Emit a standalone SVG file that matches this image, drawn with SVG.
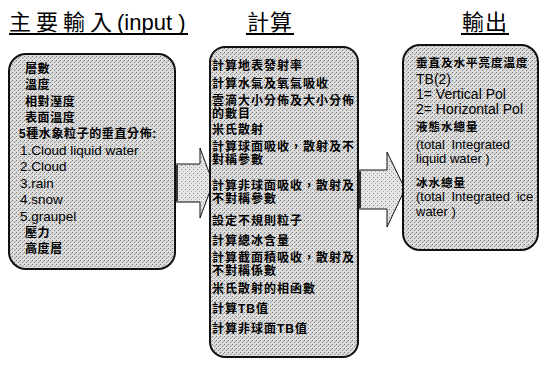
<svg xmlns="http://www.w3.org/2000/svg" width="542" height="369" viewBox="0 0 542 369">
<defs>
<pattern id="stip" width="4" height="4" patternUnits="userSpaceOnUse">
<rect width="4" height="4" fill="#dcdcdc"/>
<rect x="0" y="0" width="1" height="1" fill="#777"/>
<rect x="2" y="2" width="1" height="1" fill="#888"/>
<rect x="3" y="1" width="1" height="1" fill="#aaa"/>
</pattern>
<pattern id="stip2" width="4" height="4" patternUnits="userSpaceOnUse">
<rect width="4" height="4" fill="#e6e6e6"/>
<rect x="1" y="1" width="1" height="1" fill="#888"/>
<rect x="3" y="3" width="1" height="1" fill="#aaa"/>
</pattern>
</defs>
<style>
.box{fill:url(#stip);stroke:#111;stroke-width:2}
.arr{fill:url(#stip2);stroke:#111;stroke-width:1}
.t{font-family:"Liberation Sans","Noto Sans CJK TC",sans-serif;fill:#000}
.title{font-family:"Noto Sans CJK TC",sans-serif;font-size:22px;fill:#000}
.tl{font-family:"Liberation Sans",sans-serif;font-size:22px;fill:#000}
.cj{font-size:12px;font-weight:bold;letter-spacing:0.6px}
.cm{font-size:12px;font-weight:bold;letter-spacing:1px}
.cr{font-size:11.5px;font-weight:bold;letter-spacing:1px}
.en{font-size:13.5px}
.er{font-size:14px}
.es{font-size:13px}
.ul{stroke:#000;stroke-width:2;fill:none}
</style>
<g id="titles">
<text class="title" x="9" y="30" letter-spacing="5">主要輸入</text>
<text class="tl" x="117" y="30">(input )</text>
<path class="ul" d="M9,34 H188"/>
<text class="title" x="247" y="30" letter-spacing="1">計算</text>
<path class="ul" d="M246,34 H294"/>
<text class="title" x="462" y="30" letter-spacing="1">輸出</text>
<path class="ul" d="M461,34 H509"/>
</g>
<g id="connectors">
<path class="arr" d="M172,164 H200 V148 L213,183 L200,218 V202 H172 Z"/>
<path class="arr" d="M355,170 H387 V152 L405,189 L387,227 V209 H355 Z"/>
<rect x="172" y="165" width="6" height="36" fill="#333"/>
<rect x="355" y="171" width="6" height="37" fill="#333"/>
</g>
<g id="input">
<rect class="box" x="9" y="54" width="166" height="215" rx="17"/>
<text class="t cj" x="25" y="72.5">層數</text>
<text class="t cj" x="25" y="89">溫度</text>
<text class="t cj" x="25" y="105.5">相對溼度</text>
<text class="t cj" x="25" y="122">表面溫度</text>
<text class="t cj" x="19" y="138">5種水象粒子的垂直分佈:</text>
<text class="t en" x="20" y="155">1.Cloud liquid water</text>
<text class="t en" x="20" y="171">2.Cloud</text>
<text class="t en" x="20" y="188">3.rain</text>
<text class="t en" x="20" y="204">4.snow</text>
<text class="t en" x="20" y="220.5">5.graupel</text>
<text class="t cj" x="25" y="236.5">壓力</text>
<text class="t cj" x="25" y="253">高度層</text>
</g>
<g id="compute">
<rect class="box" x="210" y="47" width="148" height="310" rx="15"/>
<text class="t cm" x="212" y="69.5">計算地表發射率</text>
<text class="t cm" x="212" y="88">計算水氣及氧氣吸收</text>
<text class="t cm" x="212" y="105">雲滴大小分佈及大小分佈</text>
<text class="t cm" x="212" y="118">的數目</text>
<text class="t cm" x="212" y="134">米氏散射</text>
<text class="t cm" x="212" y="151">計算球面吸收，散射及不</text>
<text class="t cm" x="212" y="164">對稱參數</text>
<text class="t cm" x="212" y="190">計算非球面吸收，散射及</text>
<text class="t cm" x="212" y="203">不對稱參數</text>
<text class="t cm" x="212" y="224.5">設定不規則粒子</text>
<text class="t cm" x="212" y="244.5">計算總冰含量</text>
<text class="t cm" x="212" y="262">計算截面積吸收，散射及</text>
<text class="t cm" x="212" y="275">不對稱係數</text>
<text class="t cm" x="212" y="293">米氏散射的相函數</text>
<text class="t cm" x="212" y="312.5">計算TB值</text>
<text class="t cm" x="212" y="332.5">計算非球面TB值</text>
</g>
<g id="output">
<rect class="box" x="403" y="45" width="135" height="205" rx="17"/>
<text class="t cr" x="416" y="67">垂直及水平亮度溫度</text>
<text class="t er" x="416" y="84">TB(2)</text>
<text class="t er" x="416" y="99">1= Vertical Pol</text>
<text class="t er" x="416" y="114">2= Horizontal Pol</text>
<text class="t cr" x="416" y="131">液態水總量</text>
<text class="t es" x="416" y="149" word-spacing="3">(total Integrated</text>
<text class="t es" x="416" y="163">liquid water )</text>
<text class="t cr" x="416" y="187">冰水總量</text>
<text class="t es" x="416" y="201" word-spacing="3">(total Integrated ice</text>
<text class="t es" x="416" y="216">water )</text>
</g>
</svg>
